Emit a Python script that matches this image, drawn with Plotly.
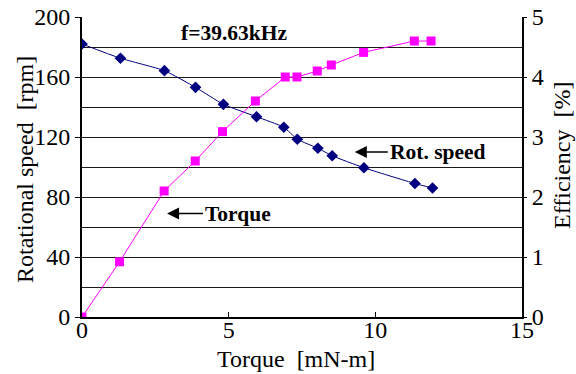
import plotly.graph_objects as go

torque_speed = [0, 1.31, 2.81, 3.87, 4.82, 5.95, 6.88, 7.34, 8.04, 8.53, 9.61, 11.35, 11.95]
rot_speed = [182, 172.5, 164.2, 153.1, 141.8, 133.5, 126.5, 118.5, 112.5, 107.5, 99.5, 89, 86]

torque_eff = [0, 1.28, 2.8, 3.86, 4.79, 5.91, 6.93, 7.33, 8.02, 8.5, 9.6, 11.33, 11.9]
efficiency = [0.0, 0.92, 2.1, 2.6, 3.09, 3.6, 4.0, 4.0, 4.1, 4.2, 4.41, 4.6, 4.6]

SERIF = "Liberation Serif"
TICKFONT = dict(family=SERIF, size=24, color="black")
TITLEFONT = dict(family=SERIF, size=24, color="black")
LABELFONT = dict(family=SERIF, size=21.5, color="black")

fig = go.Figure()
fig.add_trace(go.Scatter(
    x=torque_speed, y=rot_speed, mode="lines+markers",
    line=dict(color="#000080", width=1, shape="spline", smoothing=0.5),
    marker=dict(symbol="diamond", size=9, color="#000080"),
    yaxis="y", showlegend=False))
fig.add_trace(go.Scatter(
    x=torque_eff, y=efficiency, mode="lines+markers",
    line=dict(color="#FF00FF", width=1),
    marker=dict(symbol="square", size=9, color="#FF00FF"),
    yaxis="y2", showlegend=False))

fig.update_layout(
    width=576, height=374,
    margin=dict(l=82, r=54, t=17, b=57, autoexpand=False),
    paper_bgcolor="white", plot_bgcolor="white",
    font=dict(family=SERIF, size=20, color="black"),
    xaxis=dict(range=[0, 15], dtick=5, tick0=0, showgrid=False, zeroline=False,
               showline=True, linecolor="black", linewidth=2, automargin=False,
               ticks="inside", ticklen=5, tickcolor="black", tickwidth=1,
               tickfont=TICKFONT, ticklabelstandoff=-10),
    yaxis=dict(range=[0, 200], dtick=40, tick0=0, showgrid=True,
               gridcolor="#1a1a1a", gridwidth=1, zeroline=False,
               showline=True, linecolor="black", linewidth=2, automargin=False,
               ticks="outside", ticklen=5, tickcolor="black",
               tickfont=TICKFONT,
               minor=dict(dtick=20, showgrid=True, gridcolor="#1a1a1a", gridwidth=1)),
    yaxis2=dict(range=[0, 5], dtick=1, tick0=0, overlaying="y", side="right",
                showgrid=False, zeroline=False, automargin=False,
                showline=True, linecolor="black", linewidth=2,
                ticks="outside", ticklen=3, tickcolor="black",
                tickfont=TICKFONT),
)


def px_x(p):
    return (p - 82) / 440


def px_y(p):
    return (317 - p) / 300


# axis titles
fig.add_annotation(x=px_x(296), y=px_y(359), xref="paper", yref="paper",
                   xanchor="center", yanchor="middle",
                   text="Torque  [mN-m]", showarrow=False, font=TITLEFONT)
fig.add_annotation(x=px_x(25), y=px_y(170), xref="paper", yref="paper",
                   xanchor="center", yanchor="middle",
                   text="Rotational speed  [rpm]", textangle=-90,
                   showarrow=False, font=TITLEFONT)
fig.add_annotation(x=px_x(562), y=px_y(156), xref="paper", yref="paper",
                   xanchor="center", yanchor="middle",
                   text="Efficiency  [%]", textangle=-90,
                   showarrow=False, font=TITLEFONT)

# in-plot labels
fig.add_annotation(x=2.9, y=69, xref="x", yref="y", text="<b>Torque</b>",
                   showarrow=True, ax=36, ay=0, xanchor="left",
                   arrowhead=2, arrowsize=1.6, arrowwidth=1.5, arrowcolor="black",
                   font=LABELFONT)
fig.add_annotation(x=9.3, y=110, xref="x", yref="y", text="<b>Rot. speed</b>",
                   showarrow=True, ax=33, ay=0, xanchor="left",
                   arrowhead=2, arrowsize=1.6, arrowwidth=1.5, arrowcolor="black",
                   font=LABELFONT)
fig.add_annotation(x=5.18, y=189.3, xref="x", yref="y", text="<b>f=39.63kHz</b>",
                   showarrow=False, font=LABELFONT)

fig.write_html("out.html",
               config={"displayModeBar": False},
               post_script="document.body.style.margin='0px';")
